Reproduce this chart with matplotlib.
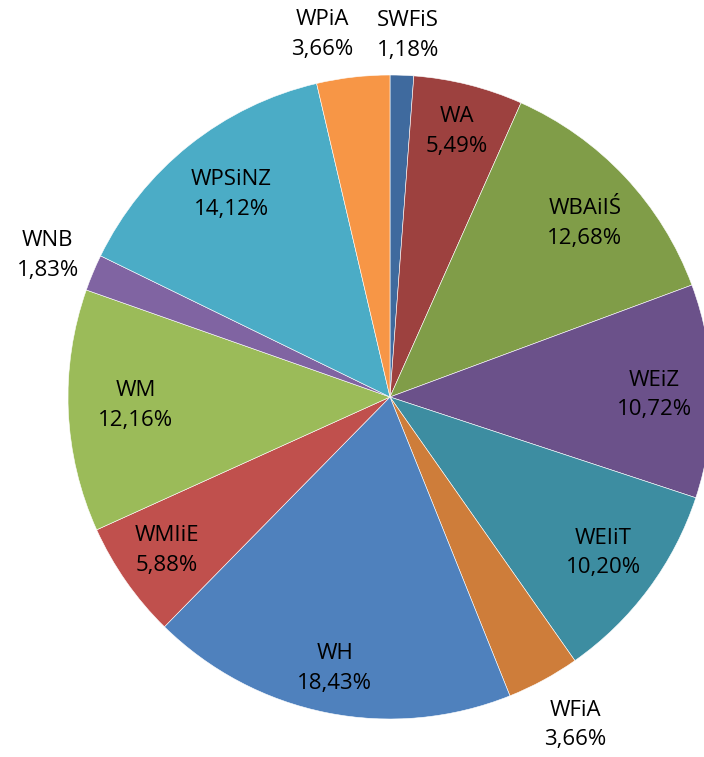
import numpy as np
import matplotlib
matplotlib.use("Agg")
import matplotlib.pyplot as plt

# data (clockwise from 12 o'clock)
names = ["SWFiS", "WA", "WBAiIŚ", "WEiZ", "WEIiT", "WFiA",
         "WH", "WMIiE", "WM", "WNB", "WPSiNZ", "WPiA"]
shares = [1.18, 5.49, 12.68, 10.72, 10.20, 3.66,
          18.43, 5.88, 12.16, 1.83, 14.12, 3.66]

colors = ["#3F6A9E", "#9D413F", "#809D48", "#6B518A", "#3D8DA1", "#CE7D3A",
          "#4F81BD", "#C0504D", "#9BBB59", "#8064A2", "#4BACC6", "#F79646"]
# label radius (fraction of pie radius) and small angular nudge in degrees
label_r = [1.125, 0.85, 0.81, 0.82, 0.82, 1.17,
           0.86, 0.84, 0.79, 1.15, 0.80, 1.145]
label_nudge = [-0.7, 0, -1.5, -0.6, 0.4, 1.0,
               -0.2, -0.4, -0.6, 0.2, -0.5, 4.0]

plt.rcParams['font.family'] = ['Open Sans', 'DejaVu Sans']

fig = plt.figure(figsize=(7.04, 7.57), dpi=100)
cx, cy, R = 390, 397, 322
W, H = 704, 757
ax = fig.add_axes([(cx - R) / W, (H - cy - R) / H, 2 * R / W, 2 * R / H])

wedges, _ = ax.pie(shares, colors=colors, startangle=90, counterclock=False,
                   radius=1, wedgeprops=dict(linewidth=0.4, edgecolor='white'))
ax.set_xlim(-1, 1)
ax.set_ylim(-1, 1)
ax.set_aspect('equal')
ax.axis('off')
for w in wedges:
    w.set_clip_on(False)

for w, name, val, r, nd in zip(wedges, names, shares, label_r, label_nudge):
    ang = np.deg2rad((w.theta1 + w.theta2) / 2 + nd)
    txt = "%s\n%s%%" % (name, ("%.2f" % val).replace(".", ","))
    ax.text(r * np.cos(ang), r * np.sin(ang), txt, ha='center', va='center',
            fontsize=16, color='black', linespacing=1.55, clip_on=False)

fig.savefig("out.png", dpi=100)
